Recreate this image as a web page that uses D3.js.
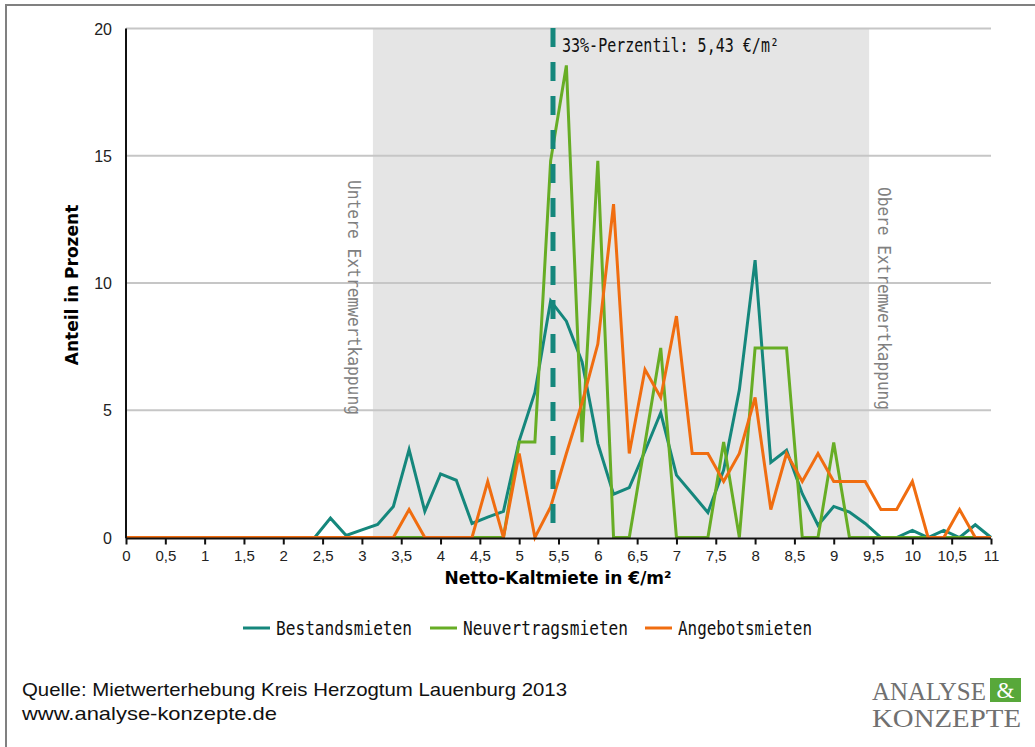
<!DOCTYPE html>
<html>
<head>
<meta charset="utf-8">
<script src="https://d3js.org/d3.v7.min.js"></script>
<style>
	body { margin: 0; background: #fff; }
	.tick text { font-family: "Liberation Sans", Arial, sans-serif; font-size: 15px; fill: #222; }
	.mono { font-family: "DejaVu Sans Mono", monospace; }
	.axis_title { font-family: "DejaVu Sans", Verdana, sans-serif; font-weight: bold; font-size: 17px; fill: #000; }
	.foot { font-family: "Liberation Sans", Arial, sans-serif; font-size: 19px; fill: #111; }
</style>
</head>
<body>
<script>
	// Netto-Kaltmiete, Verteilung in 0,20-Euro-Schritten
	var rents = [0, 0.2, 0.4, 0.6, 0.8, 1, 1.2, 1.4, 1.6, 1.8, 2, 2.2, 2.4, 2.6, 2.8, 3, 3.2, 3.4, 3.6, 3.8,
		4, 4.2, 4.4, 4.6, 4.8, 5, 5.2, 5.4, 5.6, 5.8, 6, 6.2, 6.4, 6.6, 6.8, 7, 7.2, 7.4, 7.6, 7.8,
		8, 8.2, 8.4, 8.6, 8.8, 9, 9.2, 9.4, 9.6, 9.8, 10, 10.2, 10.4, 10.6, 10.8, 11];

	var bestand = [0, 0, 0, 0, 0, 0, 0, 0, 0, 0, 0, 0, 0, 0.76, 0.08, 0.3, 0.51, 1.22, 3.45, 1.03,
		2.5, 2.25, 0.55, 0.8, 1.03, 3.8, 5.7, 9.3, 8.5, 6.9, 3.7, 1.7, 1.96, 3.4, 4.9, 2.45, 1.72, 0.98, 2.65, 5.8,
		10.9, 2.95, 3.43, 1.72, 0.48, 1.22, 1.0, 0.55, 0, 0, 0.28, 0, 0.28, 0, 0.5, 0];

	var neuvertrag = [0, 0, 0, 0, 0, 0, 0, 0, 0, 0, 0, 0, 0, 0, 0, 0, 0, 0, 0, 0,
		0, 0, 0, 0, 0, 3.75, 3.75, 14.8, 18.55, 3.75, 14.8, 0, 0, 3.7, 7.45, 0, 0, 0, 3.75, 0,
		7.45, 7.45, 7.45, 0, 0, 3.73, 0, 0, 0, 0, 0, 0, 0, 0, 0, 0];

	var angebot = [0, 0, 0, 0, 0, 0, 0, 0, 0, 0, 0, 0, 0, 0, 0, 0, 0, 0, 1.1, 0,
		0, 0, 0, 2.2, 0, 3.3, 0, 1.2, 3.3, 5.3, 7.6, 13.1, 3.3, 6.6, 5.5, 8.7, 3.3, 3.3, 2.2, 3.3,
		5.5, 1.1, 3.3, 2.2, 3.3, 2.2, 2.2, 2.2, 1.1, 1.1, 2.2, 0, 0, 1.1, 0, 0];

	var seriesNames = ["Bestandsmieten", "Neuvertragsmieten", "Angebotsmieten"];
	var seriesColors = ["#15877c", "#67ad25", "#f06d10"];
	var yTicks = [0, 5, 10, 15, 20];
	var xTicks = [0, 0.5, 1, 1.5, 2, 2.5, 3, 3.5, 4, 4.5, 5, 5.5, 6, 6.5, 7, 7.5, 8, 8.5, 9, 9.5, 10, 10.5, 11];
	var capLower = 3.14, capUpper = 9.45;
	var percentile = 5.43;

	var width = 1035, height = 747;

	var svg = d3.select("body").append("svg")
		.attr("width", width)
		.attr("height", height);

	// frame
	svg.append("path")
		.attr("d", "M6,760 L6,5 L1040,5")
		.attr("fill", "none")
		.attr("stroke", "#808080")
		.attr("stroke-width", 2);

	var xScale = d3.scaleLinear().domain([0, 11]).range([126, 991]);
	var yScale = d3.scaleLinear().domain([0, 20]).range([537.5, 28.5]);

	// gray band between extreme value caps
	svg.append("rect")
		.attr("x", xScale(capLower))
		.attr("y", yScale(20))
		.attr("width", xScale(capUpper) - xScale(capLower))
		.attr("height", yScale(0) - yScale(20))
		.attr("fill", "#e5e5e5");

	// grid
	svg.selectAll(".grid")
		.data(yTicks.slice(1))
		.enter().append("line")
		.attr("x1", xScale(0)).attr("x2", xScale(11))
		.attr("y1", function(d) { return yScale(d); })
		.attr("y2", function(d) { return yScale(d); })
		.attr("stroke", "#c6c6c6")
		.attr("stroke-width", 2);

	// y labels
	svg.selectAll(".ylab")
		.data(yTicks)
		.enter().append("text")
		.attr("x", 112)
		.attr("y", function(d) { return yScale(d) + 6; })
		.attr("text-anchor", "end")
		.style("font-family", "Liberation Sans, Arial, sans-serif")
		.style("font-size", "16px")
		.attr("fill", "#222")
		.text(function(d) { return d; });

	// cap labels
	svg.append("text")
		.attr("class", "mono")
		.attr("transform", "translate(" + [354, 180] + ") rotate(90)")
		.attr("dominant-baseline", "central")
		.attr("textLength", 235)
		.attr("lengthAdjust", "spacingAndGlyphs")
		.style("font-size", "17px")
		.attr("fill", "#808080")
		.text("Untere Extremwertkappung");
	svg.append("text")
		.attr("class", "mono")
		.attr("transform", "translate(" + [884, 187] + ") rotate(90)")
		.attr("dominant-baseline", "central")
		.attr("textLength", 223)
		.attr("lengthAdjust", "spacingAndGlyphs")
		.style("font-size", "17px")
		.attr("fill", "#808080")
		.text("Obere Extremwertkappung");

	// lines
	var line = d3.line()
		.x(function(d, i) { return xScale(rents[i]); })
		.y(function(d) { return yScale(d); });

	[bestand, neuvertrag, angebot].forEach(function(s, k) {
		svg.append("path")
			.datum(s)
			.attr("d", line)
			.attr("fill", "none")
			.attr("stroke", seriesColors[k])
			.attr("stroke-width", 3)
			.attr("stroke-linejoin", "miter");
	});

	// percentile marker
	svg.append("line")
		.attr("x1", xScale(percentile)).attr("x2", xScale(percentile))
		.attr("y1", 28).attr("y2", yScale(0))
		.attr("stroke", "#15877c")
		.attr("stroke-width", 5)
		.attr("stroke-dasharray", "19,15");
	svg.append("text")
		.attr("class", "mono")
		.attr("x", 562)
		.attr("y", 52)
		.attr("textLength", 217)
		.attr("lengthAdjust", "spacingAndGlyphs")
		.style("font-size", "19px")
		.attr("fill", "#111")
		.text("33%-Perzentil: 5,43 €/m²");

	// axes
	svg.append("line")
		.attr("x1", xScale(0)).attr("x2", xScale(0))
		.attr("y1", yScale(20)).attr("y2", yScale(0) + 1)
		.attr("stroke", "#111").attr("stroke-width", 2);

	var xAxis = d3.axisBottom(xScale)
		.tickValues(xTicks)
		.tickSize(6)
		.tickPadding(6)
		.tickFormat(function(d) { return String(d).replace(".", ","); });

	var gx = svg.append("g")
		.attr("transform", "translate(0," + (yScale(0) + 1) + ")")
		.call(xAxis);
	gx.select(".domain").attr("stroke", "#111").attr("stroke-width", 2)
		.attr("d", "M" + xScale(0) + ",0H" + xScale(11));
	gx.selectAll(".tick line").attr("stroke", "#111").attr("stroke-width", 2);

	svg.append("text")
		.attr("class", "axis_title")
		.attr("x", 558).attr("y", 584)
		.attr("text-anchor", "middle")
		.text("Netto-Kaltmiete in €/m²");
	svg.append("text")
		.attr("class", "axis_title")
		.attr("transform", "translate(" + [78, 285] + ") rotate(-90)")
		.attr("text-anchor", "middle")
		.text("Anteil in Prozent");

	// legend
	var legendX = [243, 430, 645];
	var legendW = [136, 165, 134];
	seriesNames.forEach(function(name, k) {
		svg.append("line")
			.attr("x1", legendX[k]).attr("x2", legendX[k] + 27)
			.attr("y1", 628).attr("y2", 628)
			.attr("stroke", seriesColors[k]).attr("stroke-width", 3);
		svg.append("text")
			.attr("class", "mono")
			.attr("x", legendX[k] + 33).attr("y", 635)
			.attr("textLength", legendW[k])
			.attr("lengthAdjust", "spacingAndGlyphs")
			.style("font-size", "19px")
			.attr("fill", "#111")
			.text(name);
	});

	// footer
	svg.append("text").attr("class", "foot")
		.attr("x", 22).attr("y", 696)
		.attr("textLength", 545).attr("lengthAdjust", "spacingAndGlyphs")
		.text("Quelle: Mietwerterhebung Kreis Herzogtum Lauenburg 2013");
	svg.append("text").attr("class", "foot")
		.attr("x", 22).attr("y", 720)
		.attr("textLength", 255).attr("lengthAdjust", "spacingAndGlyphs")
		.text("www.analyse-konzepte.de");

	// logo
	var logo = svg.append("g").style("font-family", "Liberation Serif, serif").attr("fill", "#707070");
	logo.append("text").attr("x", 872).attr("y", 700)
		.attr("textLength", 114).attr("lengthAdjust", "spacingAndGlyphs")
		.style("font-size", "25px").text("ANALYSE");
	logo.append("rect").attr("x", 990).attr("y", 678).attr("width", 31).attr("height", 24).attr("fill", "#58a83a");
	logo.append("text").attr("x", 1005.5).attr("y", 698).attr("text-anchor", "middle")
		.attr("fill", "#fff").style("font-size", "23px").text("&");
	logo.append("text").attr("x", 872).attr("y", 727)
		.attr("textLength", 149).attr("lengthAdjust", "spacingAndGlyphs")
		.style("font-size", "25px").text("KONZEPTE");
</script>
</body>
</html>
